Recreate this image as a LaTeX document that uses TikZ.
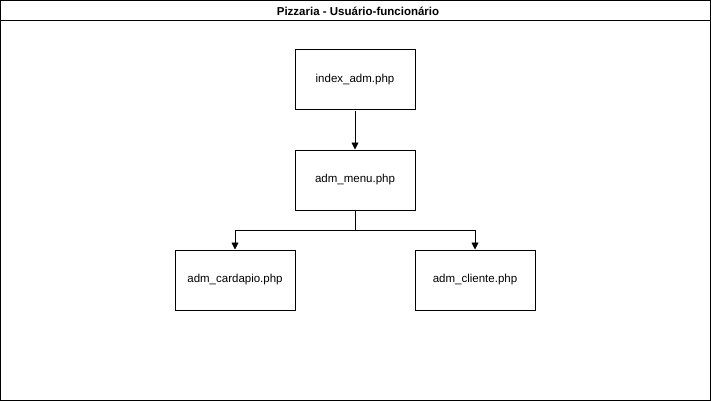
\documentclass[tikz,border=0pt]{standalone}
\usepackage{fontspec}
\setmainfont{Liberation Sans}
\usetikzlibrary{arrows.meta}
\tikzset{
    page/.style={draw, line width=1pt, minimum width=120pt, minimum height=60pt, inner sep=0pt, font=\fontsize{11.5}{13}\selectfont},
    link/.style={-{Triangle[length=7pt,width=7pt]}, line width=0.9pt}
}
\begin{document}
\begin{tikzpicture}[x=1pt,y=-1pt]
    \useasboundingbox (0,0) rectangle (711,401);
    \draw[line width=1pt] (0.5,0.5) rectangle (710,400);
    \draw[line width=1pt] (0.5,20.5) -- (710,20.5);
    \node[font=\fontsize{11.5}{13}\selectfont\bfseries] (title) at (358,11) {Pizzaria - Usuário-funcionário};
    \node[page] (index) at (355,80) {index\_adm.php};
    \node[page] (menu) at (355,180) {adm\_menu.php};
    \node[page] (cardapio) at (235,280) {adm\_cardapio.php};
    \node[page] (cliente) at (475,280) {adm\_cliente.php};
    \draw[link] (index) -- (menu);
    \draw[link] (menu.south) -- ++(0,20) -| (cardapio.north);
    \draw[link] (menu.south) -- ++(0,20) -| (cliente.north);
\end{tikzpicture}
\end{document}
